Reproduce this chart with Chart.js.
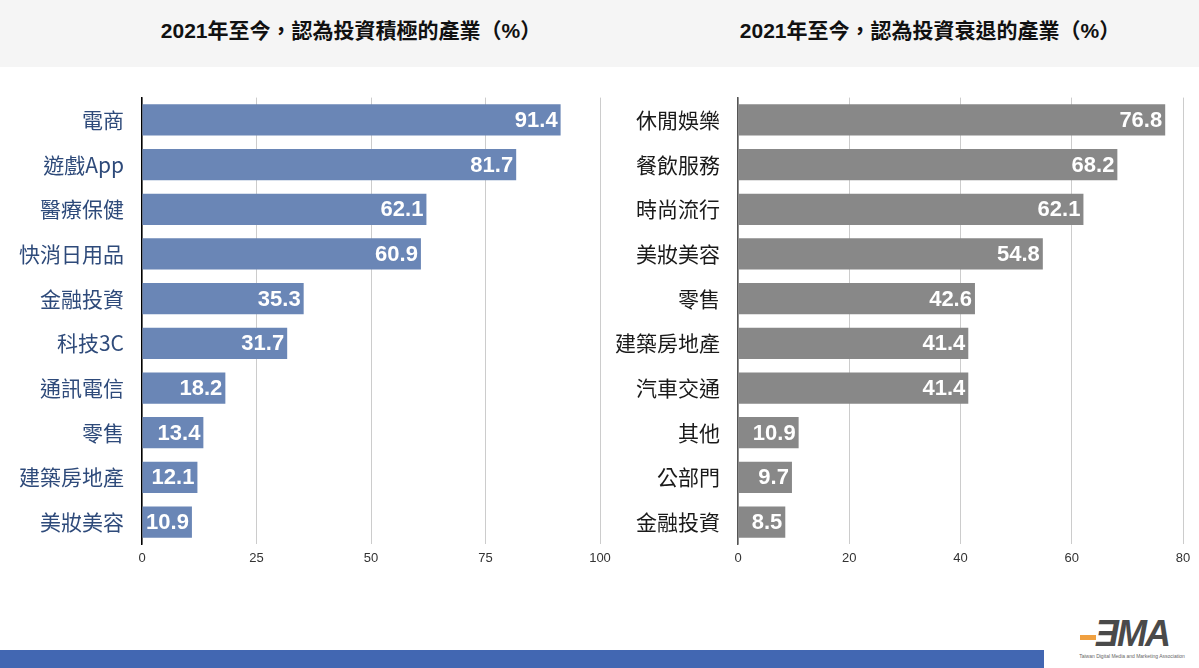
<!DOCTYPE html>
<html>
<head>
<meta charset="utf-8">
<script src="https://cdn.jsdelivr.net/npm/chart.js@4.4.0/dist/chart.umd.min.js"></script>
<style>
  body { margin: 0; width: 1199px; height: 668px; background: #fff; position: relative; overflow: hidden;
         font-family: "Liberation Sans", "Noto Sans CJK TC", sans-serif; }
  .header { position: absolute; left: 0; top: 0; width: 1199px; height: 67px; background: #f5f5f5; }
  .title { position: absolute; top: 14px; font-size: 21px; font-weight: bold; color: #111;
           font-family: "Liberation Sans", "Noto Sans CJK TC", sans-serif; text-align: center; }
  .box { position: absolute; }
  .footer { position: absolute; left: 0; top: 650px; width: 1044px; height: 18px; background: #4267b2; }
  .logo { position: absolute; left: 1068px; top: 618px; width: 128px; text-align: center; }
  .logo .mark { font: italic bold 36px "Liberation Sans", sans-serif; color: #4a4a4a; letter-spacing: -2px; line-height: 32px; position: relative; }
  .logo .dash { position: absolute; left: 12px; top: 17px; width: 16px; height: 5px; background: #f0a040; }
  .logo .sub { font: 5px "Liberation Sans", sans-serif; color: #666; margin-top: 3px; }
</style>
</head>
<body>
<div class="header"></div>
<div class="title" style="left:106px;width:490px;">2021年至今，認為投資積極的產業（%）</div>
<div class="title" style="left:685px;width:490px;">2021年至今，認為投資衰退的產業（%）</div>
<div class="box" style="left:0;top:75px;width:620px;height:497px;"><canvas id="posChart"></canvas></div>
<div class="box" style="left:600px;top:75px;width:599px;height:497px;"><canvas id="negChart"></canvas></div>
<div class="footer"></div>
<div class="logo"><div class="mark">ƎMA<div class="dash"></div></div><div class="sub">Taiwan Digital Media and Marketing Association</div></div>
<script>
const posLabels = ['電商', '遊戲App', '醫療保健', '快消日用品', '金融投資', '科技3C', '通訊電信', '零售', '建築房地產', '美妝美容'];
const posValues = [91.4, 81.7, 62.1, 60.9, 35.3, 31.7, 18.2, 13.4, 12.1, 10.9];
const posTicks = [0, 25, 50, 75, 100];

const negLabels = ['休閒娛樂', '餐飲服務', '時尚流行', '美妝美容', '零售', '建築房地產', '汽車交通', '其他', '公部門', '金融投資'];
const negValues = [76.8, 68.2, 62.1, 54.8, 42.6, 41.4, 41.4, 10.9, 9.7, 8.5];
const negTicks = [0, 20, 40, 60, 80];

const valueLabels = {
  id: 'valueLabels',
  afterDatasetsDraw(chart) {
    const ctx = chart.ctx;
    const meta = chart.getDatasetMeta(0);
    ctx.save();
    ctx.font = 'bold 22px "Liberation Sans", Arial, sans-serif';
    ctx.fillStyle = '#fff';
    ctx.textAlign = 'right';
    ctx.textBaseline = 'middle';
    meta.data.forEach((bar, i) => {
      ctx.fillText(chart.data.datasets[0].data[i].toFixed(1), bar.x - 3, bar.y + 1);
    });
    ctx.restore();
  }
};

function makeChart(id, labels, values, ticks, barColor, labelColor, axisColor, yWidth, padRight) {
  new Chart(document.getElementById(id), {
    type: 'bar',
    data: {
      labels: labels,
      datasets: [{
        data: values,
        backgroundColor: barColor,
        barPercentage: 0.7,
        categoryPercentage: 1.0
      }]
    },
    options: {
      indexAxis: 'y',
      responsive: true,
      maintainAspectRatio: false,
      animation: false,
      layout: { padding: { top: 5, right: padRight, bottom: 0, left: 0 } },
      plugins: { legend: { display: false }, tooltip: { enabled: false } },
      scales: {
        x: {
          min: ticks[0],
          max: ticks[ticks.length - 1],
          afterBuildTicks: s => { s.ticks = ticks.map(v => ({ value: v })); },
          grid: { color: '#cccccc', drawTicks: false, lineWidth: 1 },
          border: { display: false },
          ticks: { color: '#333', font: { size: 13, family: '"Liberation Sans", Arial, sans-serif' }, padding: 6 }
        },
        y: {
          afterFit: s => { s.width = yWidth; },
          grid: { display: false },
          border: { color: axisColor, width: 1.5 },
          ticks: { color: labelColor, padding: 10, font: { size: 21, family: '"Noto Sans CJK TC", "Liberation Sans", sans-serif' } }
        }
      }
    },
    plugins: [valueLabels]
  });
}

makeChart('posChart', posLabels, posValues, posTicks, '#6a86b6', '#2e4a7a', '#000', 142, 20);
makeChart('negChart', negLabels, negValues, negTicks, '#888888', '#1a1a1a', '#555', 138, 16);
</script>
</body>
</html>
